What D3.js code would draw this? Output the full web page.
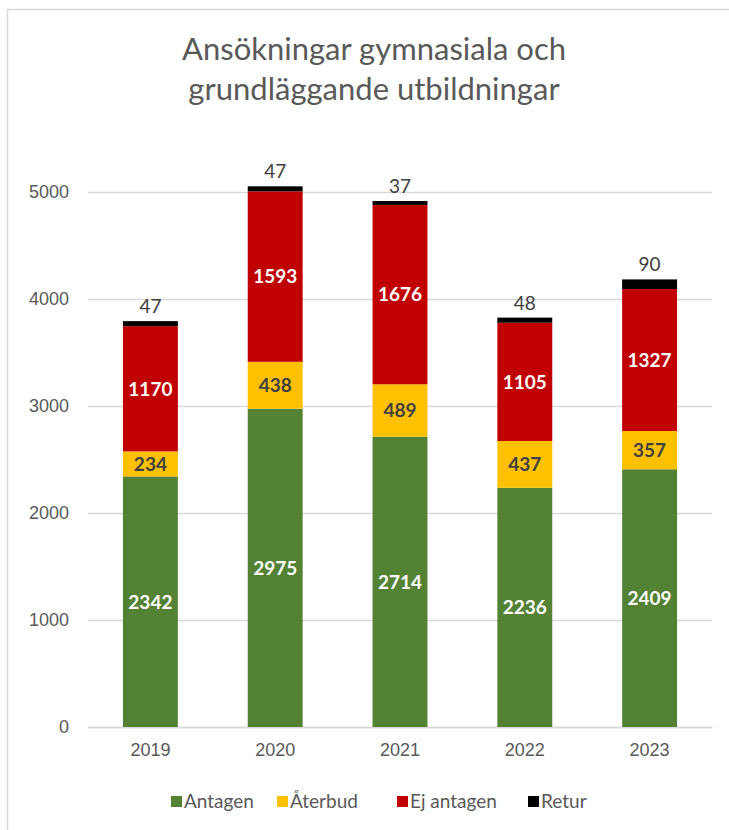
<!DOCTYPE html>
<html>
<head>
<meta charset="utf-8">
<script src="https://cdn.jsdelivr.net/npm/d3@7"></script>
<style>
  body { margin: 0; background: #fff; }
  svg { display: block; font-family: Lato, "Open Sans", sans-serif; }
</style>
</head>
<body>
<div id="chart"></div>
<script>
const years = ["2019", "2020", "2021", "2022", "2023"]
const seriesNames = ["Antagen", "Återbud", "Ej antagen", "Retur"]
const antagen = [2342, 2975, 2714, 2236, 2409]
const aterbud = [234, 438, 489, 437, 357]
const ejAntagen = [1170, 1593, 1676, 1105, 1327]
const retur = [47, 47, 37, 48, 90]
const yTicks = [0, 1000, 2000, 3000, 4000, 5000]
const colors = ["#548235", "#FFC000", "#C00000", "#000000"]
const labelColors = ["#ffffff", "#404040", "#ffffff", null]

const width = 729, height = 830
const margin = { left: 88, right: 17, top: 192, bottom: 103 }

const rows = years.map((y, i) => ({
    year: y,
    "Antagen": antagen[i],
    "Återbud": aterbud[i],
    "Ej antagen": ejAntagen[i],
    "Retur": retur[i]
}))
const stacked = d3.stack().keys(seriesNames)(rows)

const x = d3.scaleBand(years, [margin.left, width - margin.right]).paddingInner(0.56).paddingOuter(0.28)
const y = d3.scaleLinear([0, 5000], [height - margin.bottom, margin.top])

const svg = d3.select('#chart')
    .append('svg')
    .attr('width', width)
    .attr('height', height)

// chart frame
svg.append("rect")
    .attr("x", 7.5)
    .attr("y", 9.5)
    .attr("width", width + 10)
    .attr("height", height + 10)
    .attr("fill", "none")
    .attr("stroke", "#d9d9d9")
    .attr("stroke-width", 1.5)

svg.append("text")
    .attr("text-anchor", "middle")
    .attr("fill", "#595959")
    .attr("font-size", 31)
    .selectAll("tspan")
    .data(["Ansökningar gymnasiala och", "grundläggande utbildningar"])
    .join("tspan")
    .attr("x", 374)
    .attr("y", (d, i) => 60 + i * 40)
    .text(d => d)

// y axis
const yAxis = svg.append("g")
    .attr("transform", `translate(${margin.left},0)`)
    .call(d3.axisLeft(y).tickValues(yTicks).tickFormat(d3.format("d"))
        .tickSize(-(width - margin.right - margin.left)).tickPadding(19))
yAxis.select(".domain").remove()
yAxis.selectAll(".tick line").attr("stroke", "#d9d9d9").attr("stroke-width", 1.5)
yAxis.selectAll(".tick text").attr("fill", "#595959").attr("font-size", 18).attr("font-family", null)

// x axis
const xAxis = svg.append("g")
    .attr("transform", `translate(0,${y(0)})`)
    .call(d3.axisBottom(x).tickSize(0).tickPadding(16))
xAxis.select(".domain").attr("stroke", "#d9d9d9").attr("stroke-width", 1.5)
xAxis.selectAll(".tick text").attr("fill", "#595959").attr("font-size", 18).attr("font-family", null)

const layers = svg.append("g")
    .selectAll("g")
    .data(stacked)
    .join("g")
    .attr("fill", (d, i) => colors[i])

layers.selectAll("rect")
    .data(d => d)
    .join("rect")
    .attr("x", d => x(d.data.year))
    .attr("width", x.bandwidth())
    .attr("y", d => y(d[1]))
    .attr("height", d => y(d[0]) - y(d[1]))

// labels inside segments, Retur above the bar
stacked.forEach((layer, i) => {
    const g = svg.append("g")
        .attr("text-anchor", "middle")
        .attr("font-size", 19)
    if (labelColors[i]) {
        g.selectAll("text")
            .data(layer)
            .join("text")
            .attr("x", d => x(d.data.year) + x.bandwidth() / 2)
            .attr("y", d => (y(d[0]) + y(d[1])) / 2)
            .attr("dy", "0.36em")
            .attr("fill", labelColors[i])
            .attr("font-weight", "bold")
            .text(d => d[1] - d[0])
    } else {
        g.selectAll("text")
            .data(layer)
            .join("text")
            .attr("x", d => x(d.data.year) + x.bandwidth() / 2)
            .attr("y", d => y(d[1]) - 8)
            .attr("fill", "#404040")
            .text(d => d[1] - d[0])
    }
})

// legend
const legendX = [171, 277, 397, 528]
const legend = svg.append("g")
    .selectAll("g")
    .data(seriesNames)
    .join("g")
    .attr("transform", (d, i) => `translate(${legendX[i]},801)`)

legend.append("rect")
    .attr("y", -5)
    .attr("width", 11)
    .attr("height", 11)
    .attr("fill", (d, i) => colors[i])

legend.append("text")
    .attr("x", 13)
    .attr("dy", "0.36em")
    .attr("fill", "#595959")
    .attr("font-size", 19)
    .text(d => d)
</script>
</body>
</html>
